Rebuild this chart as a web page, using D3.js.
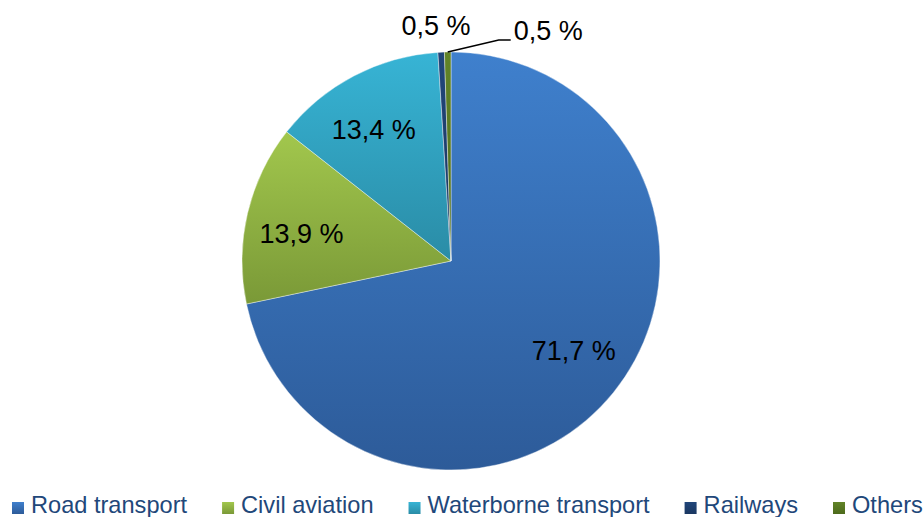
<!DOCTYPE html>
<html>
<head>
<meta charset="utf-8">
<script src="https://cdn.jsdelivr.net/npm/d3@7/dist/d3.min.js"></script>
<style>
  html, body { margin: 0; padding: 0; background: #ffffff; }
  svg { display: block; font-family: "Liberation Sans", Arial, sans-serif; }
</style>
</head>
<body>
<svg id="chart" width="924" height="517"></svg>
<script>
// Share of transport greenhouse-gas emissions by mode (%)
const categories = ["Road transport", "Civil aviation", "Waterborne transport", "Railways", "Others"];
const shares = [71.7, 13.9, 13.4, 0.5, 0.5];
const labels = ["71,7 %", "13,9 %", "13,4 %", "0,5 %", "0,5 %"];
// Gradient stops per slice: light at the top, dark at the bottom
const colorsTop = ["#3f80cd", "#a2c74d", "#37b4d5", "#21467a", "#628428"];
const colorsBottom = ["#2d5b99", "#7a9937", "#2a8ca6", "#1a3761", "#4d6a1c"];

const svg = d3.select("#chart");
const cx = 451, cy = 261, radius = 209;

const pie = d3.pie().sort(null).value(d => d)(shares);
const arc = d3.arc().innerRadius(0).outerRadius(radius);
const labelArc = d3.arc().innerRadius(152).outerRadius(152);

const defs = svg.append("defs");
pie.forEach((p, i) => {
  const g = defs.append("linearGradient")
    .attr("id", "grad" + i)
    .attr("x1", 0).attr("y1", 0).attr("x2", 0).attr("y2", 1);
  g.append("stop").attr("offset", "0%").attr("stop-color", colorsTop[i]);
  g.append("stop").attr("offset", "100%").attr("stop-color", colorsBottom[i]);
});

const plot = svg.append("g").attr("transform", `translate(${cx},${cy})`);

plot.selectAll("path.slice")
  .data(pie)
  .join("path")
  .attr("class", "slice")
  .attr("d", arc)
  .attr("fill", (d, i) => `url(#grad${i})`)
  .attr("stroke", "#ffffff")
  .attr("stroke-width", 0.4);

// Labels of the large slices sit inside the pie, nudged slightly
// counter-clockwise from the slice mid-angle
const big = pie.filter(d => d.value > 5);
const shifted = d => {
  const a = (d.startAngle + d.endAngle) / 2 - 0.05;
  return [Math.sin(a) * 152, -Math.cos(a) * 152];
};
plot.selectAll("text.inside")
  .data(big)
  .join("text")
  .attr("class", "inside")
  .attr("x", d => shifted(d)[0])
  .attr("y", d => shifted(d)[1])
  .attr("text-anchor", "middle")
  .attr("dominant-baseline", "central")
  .attr("font-size", 27)
  .attr("fill", "#000000")
  .text(d => labels[d.index]);

// Railways label just above its sliver
const rail = pie[3];
const railOut = d3.arc().innerRadius(radius + 26).outerRadius(radius + 26).centroid(rail);
plot.append("text")
  .attr("x", railOut[0] - 4)
  .attr("y", railOut[1])
  .attr("text-anchor", "middle")
  .attr("dominant-baseline", "central")
  .attr("font-size", 27)
  .attr("fill", "#000000")
  .text(labels[3]);

// Others label with a leader line
const oth = pie[4];
const edge = d3.arc().innerRadius(radius).outerRadius(radius).centroid(oth);
const elbow = [edge[0] + 51, edge[1] - 12];
const tail = [elbow[0] + 12, elbow[1]];
plot.append("polyline")
  .attr("points", [edge, elbow, tail].map(p => p.join(",")).join(" "))
  .attr("fill", "none")
  .attr("stroke", "#000000")
  .attr("stroke-width", 1.5);
plot.append("text")
  .attr("x", tail[0] + 3)
  .attr("y", tail[1] - 9)
  .attr("text-anchor", "start")
  .attr("dominant-baseline", "central")
  .attr("font-size", 27)
  .attr("fill", "#000000")
  .text(labels[4]);

// Legend along the bottom
const legend = svg.append("g");
const items = legend.selectAll("g.item")
  .data(categories)
  .join("g")
  .attr("class", "item");
items.append("rect")
  .attr("width", 12).attr("height", 12)
  .attr("y", 502)
  .attr("fill", (d, i) => `url(#grad${i})`);
items.append("text")
  .attr("x", 19)
  .attr("y", 513)
  .attr("font-size", 23.6)
  .attr("fill", "#1f487a")
  .text(d => d);

let x = 12;
items.each(function () {
  const t = d3.select(this).select("text").node().getComputedTextLength();
  d3.select(this).attr("transform", `translate(${x},0)`);
  x += 19 + t + 35;
});
</script>
</body>
</html>
